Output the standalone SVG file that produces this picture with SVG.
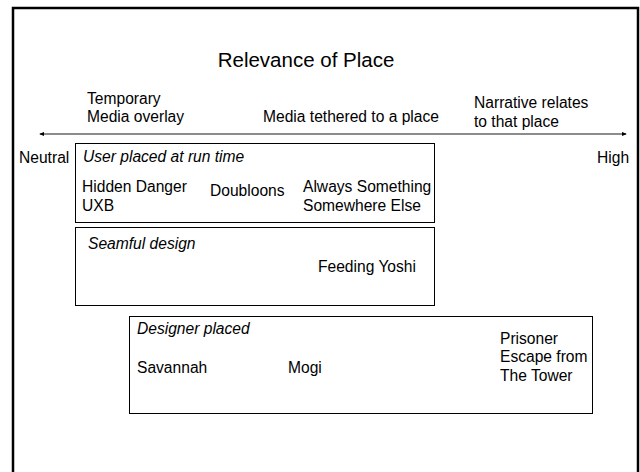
<svg xmlns="http://www.w3.org/2000/svg" width="640" height="472" viewBox="0 0 640 472">
<defs>
<style>
text{font-family:"Liberation Sans",Arial,sans-serif;font-size:15.6px;fill:#000}
.t{font-size:20.5px}
.i{font-style:italic}
.box{fill:#fff;stroke:#000;stroke-width:1}
</style>
<marker id="ah" viewBox="0 0 6 6" refX="5" refY="3" markerWidth="5" markerHeight="5" orient="auto-start-reverse" markerUnits="userSpaceOnUse">
<path d="M0,0.5 L6,3 L0,5.5 z" fill="#000"/>
</marker>
</defs>
<rect x="0" y="0" width="640" height="472" fill="#fff"/>
<rect x="13" y="8" width="625" height="480" fill="none" stroke="#000" stroke-width="2.5"/>
<g id="title"><text class="t" x="306" y="67" text-anchor="middle">Relevance of Place</text></g>
<g id="connectors">
<line x1="40" y1="134" x2="626" y2="134" stroke="#666" stroke-width="1.3" marker-start="url(#ah)" marker-end="url(#ah)"/>
</g>
<g id="axis-labels">
<text x="87" y="104">Temporary</text>
<text x="87" y="122">Media overlay</text>
<text x="263" y="122">Media tethered to a place</text>
<text x="474" y="108">Narrative relates</text>
<text x="474" y="127">to that place</text>
<text x="19" y="163">Neutral</text>
<text x="597" y="163">High</text>
</g>
<g id="user-placed">
<rect class="box" x="75.5" y="143.5" width="359" height="79"/>
<text class="i" x="83" y="162">User placed at run time</text>
<text x="82" y="192">Hidden Danger</text>
<text x="82" y="211">UXB</text>
<text x="210" y="196">Doubloons</text>
<text x="303" y="192">Always Something</text>
<text x="303" y="211">Somewhere Else</text>
</g>
<g id="seamful">
<rect class="box" x="75.5" y="227.5" width="359" height="78"/>
<text class="i" x="88" y="249">Seamful design</text>
<text x="318" y="272">Feeding Yoshi</text>
</g>
<g id="designer-placed">
<rect class="box" x="129.5" y="316.5" width="463" height="97"/>
<text class="i" x="137" y="334">Designer placed</text>
<text x="137" y="373">Savannah</text>
<text x="288" y="373">Mogi</text>
<text x="500" y="344">Prisoner</text>
<text x="500" y="362">Escape from</text>
<text x="500" y="381">The Tower</text>
</g>
</svg>
